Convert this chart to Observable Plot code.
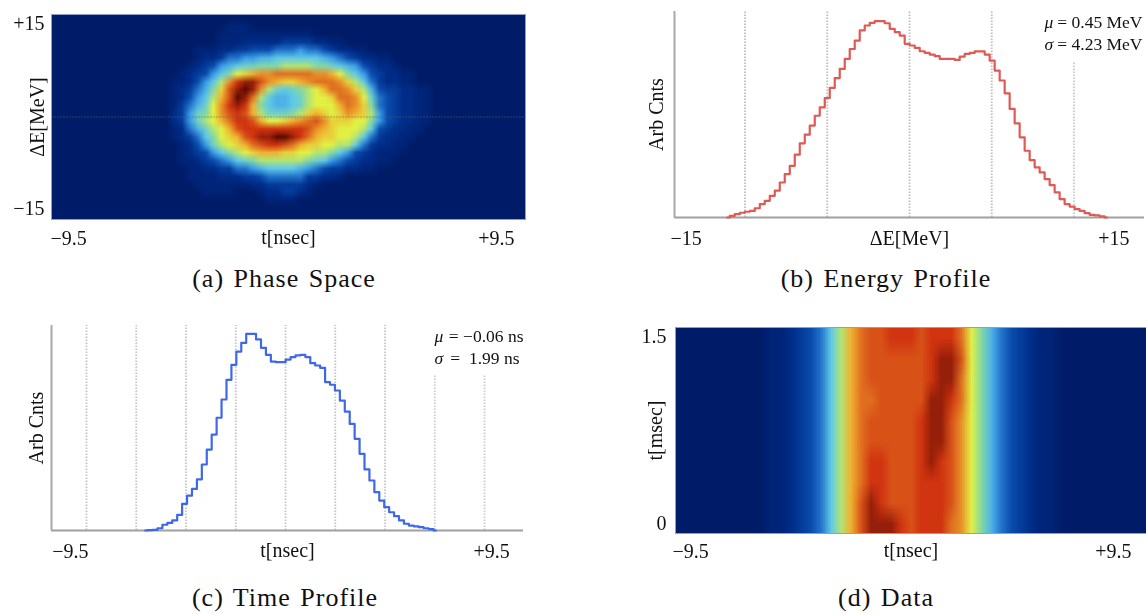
<!DOCTYPE html>
<html>
<head>
<meta charset="utf-8">
<script src="https://cdn.jsdelivr.net/npm/d3@7"></script>
<script src="https://cdn.jsdelivr.net/npm/@observablehq/plot@0.6"></script>
<style>
  html, body { margin: 0; padding: 0; background: #fff; }
  #page { position: relative; width: 1146px; height: 615px; overflow: hidden; font-family: "Liberation Serif", serif; color: #111; }
  .panel { position: absolute; filter: blur(0.35px); }
  .panel svg { overflow: visible; display: block; }
  .cap { position: absolute; font-size: 26px; letter-spacing: 1px; word-spacing: 2px; line-height: 28px; text-align: center; white-space: nowrap; transform: translateX(-50%); color: #111; }
</style>
</head>
<body>
<div id="page"></div>
<script>
// Heat scale stops (jet-like), shared by both images
const heatStops = [0, 2, 4, 6, 8, 10, 12, 14, 16, 18, 20];
const heatColors = ["#001c68", "#002c88", "#0a4cae", "#3a9be8", "#60c8e8", "#82d8a4", "#e2f044", "#f0b030", "#e07020", "#d03410", "#5c0a02"];

// (a) Phase space: central 35 columns of a 60 x 26 image, top row first; the rest is background
const phaseLeftPad = 14, phaseRightPad = 11;
const phaseSpaceCore = [
  [0,0,0,0,0,0,0,0,0,0,0,0,0,0,0,0,0,0,0,0,0,0,0,0,0,0,0,0,0,0,0,0,0,0,0],
  [0,0,0,0,0,0,0,0,1,1,1,0,0,0,0,0,0,0,0,0,0,0,0,0,0,0,0,0,0,0,0,0,0,0,0],
  [0,0,0,0,0,0,0,1,1,1,1,1,1,1,1,1,1,1,1,0,0,0,0,0,0,0,0,0,0,0,0,0,0,0,0],
  [0,0,0,0,0,0,0,1,1,1,2,2,2,2,2,3,3,3,3,2,2,1,1,0,0,0,0,0,0,0,0,0,0,0,0],
  [0,0,0,0,1,1,1,2,2,3,3,4,4,4,5,5,5,6,5,5,4,3,2,2,1,1,0,0,0,0,0,0,0,0,0],
  [0,0,0,0,1,2,2,3,5,5,6,6,7,7,8,8,8,8,8,8,7,6,5,4,3,2,2,1,1,0,0,0,0,0,0],
  [0,0,0,1,2,3,4,6,7,8,9,9,10,10,10,11,11,11,11,10,10,9,8,7,6,4,3,2,2,1,0,0,0,0,0],
  [0,0,1,2,3,4,6,8,10,12,13,14,15,15,16,16,16,16,16,15,15,14,12,10,8,6,4,3,2,2,1,1,0,0,0],
  [0,1,1,2,4,6,8,11,15,18,19,19,17,15,14,13,13,14,15,16,16,16,15,13,11,8,5,3,2,2,1,1,0,0,0],
  [0,1,2,3,5,7,10,13,17,19,20,19,15,11,9,8,9,10,11,12,14,16,16,15,13,11,7,4,3,3,2,2,1,1,0],
  [0,1,2,4,6,8,11,14,17,20,19,16,11,8,7,7,8,9,11,12,12,13,16,16,15,12,9,5,4,3,2,2,1,1,0],
  [0,1,3,5,7,9,12,15,18,19,18,14,10,8,7,7,8,9,11,12,12,12,14,16,15,13,10,5,4,3,2,2,1,1,0],
  [0,2,3,6,9,10,12,15,17,18,17,14,11,9,9,9,10,11,13,14,13,12,13,15,14,13,11,6,4,3,2,2,1,1,0],
  [0,2,3,6,9,11,12,14,16,18,18,17,14,12,12,13,14,15,16,17,15,13,13,13,12,12,10,6,4,3,2,2,1,1,0],
  [0,1,2,5,7,9,11,12,14,17,18,18,18,18,18,18,18,18,17,15,14,13,12,12,12,11,8,4,3,2,2,1,1,0,0],
  [0,1,2,3,5,8,10,12,13,14,17,18,19,19,20,20,19,18,16,14,13,13,12,12,11,8,5,3,2,2,1,1,0,0,0],
  [0,0,1,2,4,6,9,11,12,13,14,16,17,18,18,17,16,14,13,13,12,12,11,11,8,5,3,2,2,1,1,0,0,0,0],
  [0,0,1,2,3,4,6,8,10,11,12,13,14,14,14,13,13,12,12,11,11,10,8,6,4,3,2,1,1,1,0,0,0,0,0],
  [0,0,1,1,2,3,4,5,6,8,9,10,11,11,11,11,11,11,10,9,8,6,5,4,3,2,2,1,1,0,0,0,0,0,0],
  [0,0,0,1,1,2,2,3,3,5,5,6,7,8,8,8,8,7,6,5,4,3,3,2,2,1,1,0,0,0,0,0,0,0,0],
  [0,0,0,1,1,1,1,2,2,2,3,3,4,5,5,5,5,5,3,3,2,2,1,0,0,0,0,0,0,0,0,0,0,0,0],
  [0,0,0,0,1,1,1,1,1,1,1,2,2,3,3,3,3,3,2,1,0,0,0,0,0,0,0,0,0,0,0,0,0,0,0],
  [0,0,0,0,0,1,1,1,1,0,0,0,1,2,2,3,3,2,1,0,0,0,0,0,0,0,0,0,0,0,0,0,0,0,0],
  [0,0,0,0,0,0,0,0,0,0,0,0,0,1,1,1,1,0,0,0,0,0,0,0,0,0,0,0,0,0,0,0,0,0,0],
  [0,0,0,0,0,0,0,0,0,0,0,0,0,0,0,0,0,0,0,0,0,0,0,0,0,0,0,0,0,0,0,0,0,0,0],
  [0,0,0,0,0,0,0,0,0,0,0,0,0,0,0,0,0,0,0,0,0,0,0,0,0,0,0,0,0,0,0,0,0,0,0]
];
const phaseSpaceFlat = phaseSpaceCore.flatMap(r => [...Array(phaseLeftPad).fill(0), ...r, ...Array(phaseRightPad).fill(0)]);

// (d) Data: 47 columns x 10 rows, top row first
const dataGrid = [
  [0,0,0,0,0,0,0,0,0,1,1,2,3,4,5,8,11,14,16,17,17,18,18,18,17,18,18,18,16,12,10,7,5,4,3,2,1,1,0,0,0,0,0,0,0,0,0],
  [0,0,0,0,0,0,0,0,0,1,1,2,3,4,5,8,11,14,16,17,17,17,17,17,17,18,19,19,17,12,10,7,5,4,3,2,1,1,0,0,0,0,0,0,0,0,0],
  [0,0,0,0,0,0,0,0,0,1,1,2,3,4,5,8,11,14,16,17,17,17,17,17,17,18,19,19,16,12,10,7,5,4,3,2,1,1,0,0,0,0,0,0,0,0,0],
  [0,0,0,0,0,0,0,0,0,1,1,2,3,4,5,8,11,14,16,16,17,17,17,17,17,19,19,18,16,12,10,7,5,4,3,2,1,1,0,0,0,0,0,0,0,0,0],
  [0,0,0,0,0,0,0,0,0,1,1,2,3,4,5,8,11,14,16,17,17,17,17,17,18,19,19,17,15,12,10,7,5,4,3,2,1,1,0,0,0,0,0,0,0,0,0],
  [0,0,0,0,0,0,0,0,0,1,1,2,3,4,5,8,11,14,16,17,17,17,17,17,18,19,19,17,15,12,10,7,5,4,3,2,1,1,0,0,0,0,0,0,0,0,0],
  [0,0,0,0,0,0,0,0,0,1,1,2,3,4,5,8,11,14,16,18,18,17,17,17,18,19,18,17,15,12,10,7,5,4,3,2,1,1,0,0,0,0,0,0,0,0,0],
  [0,0,0,0,0,0,0,0,0,1,1,2,3,4,5,8,11,14,16,18,18,17,17,17,18,18,18,17,15,12,10,7,5,4,3,2,1,1,0,0,0,0,0,0,0,0,0],
  [0,0,0,0,0,0,0,0,0,1,1,2,3,4,5,8,11,14,17,19,18,17,17,17,18,18,18,17,15,12,10,7,5,4,3,2,1,1,0,0,0,0,0,0,0,0,0],
  [0,0,0,0,0,0,0,0,0,1,1,2,3,4,5,8,11,14,17,19,19,19,18,17,18,18,18,16,15,12,10,7,5,4,3,2,1,1,0,0,0,0,0,0,0,0,0]
];

// (b) Energy profile
const energyCounts = [0,0.8,1.6,2.3,2.8,3.2,4.5,6.5,8.1,10.5,13,17,21.1,25.1,30.5,36,40.2,44.6,49.4,53.5,58,62.9,67.7,72.1,77,81.8,85.9,90.8,93.2,94.5,95.3,95.3,94.3,91.6,90,88.3,84.3,83.5,82.3,80.7,79.9,79.1,78.3,77,77,77,76.5,78.1,79.4,79.9,80.6,80.6,79.1,76.2,71.3,66.5,60.3,52.7,45.7,38.9,32.4,27.9,24.3,21.9,18.6,15.7,12.2,8.9,6.5,5.3,4.1,3.2,2.1,1.3,1,0.5,0];
const energyStart = -11.63, energyStep = 0.319;
const energyGrid = [-10.5, -5.25, 0, 5.25];
const energyGridShort = [10.5];

// (c) Time profile
const timeCounts = [0,0.2,0.3,1.1,2.8,3.7,4.9,7.6,13,17,20.3,24.9,32.2,39.5,46.8,55,63.9,73.5,80.8,87.3,91.5,95.9,95.9,93.2,89.1,85.7,82.4,82.1,82.1,83.4,84.6,85.4,85.7,84.6,81.6,80.5,79.3,72.4,71.1,68.3,63.4,58,52,44.7,37.4,29.8,24.4,18.7,14.6,11.4,8.9,7,4.9,3.3,2.4,2,1.6,1.1,0.7,0];
const timeStart = -6.7, timeStep = 0.2353;
const timeGrid = [-9.5, -7.125, -4.75, -2.375, 0, 2.375, 4.75];
const timeGridShort = [7.125, 9.5];

const fs = 20;
const colorScale = {type: "linear", domain: heatStops, range: heatColors, clamp: true};

function tick(axis, value, text, opts) {
  return axis([value], {tickSize: 0, label: null, tickFormat: () => text, fontSize: fs, ...opts});
}
function xTitle(text, offset) {
  return Plot.axisX([], {label: text, labelAnchor: "center", labelArrow: "none", labelOffset: offset, fontSize: fs, tickSize: 0});
}
function yTitle(text, offset) {
  return Plot.axisY([], {label: text, labelAnchor: "center", labelArrow: "none", labelOffset: offset, fontSize: fs, tickSize: 0});
}
function stats(sym, rest, dxSym, dxRest, dy) {
  return [
    Plot.text([sym], {text: d => d, frameAnchor: "top-right", textAnchor: "start", dx: dxSym, dy, fontSize: 17.5, fontStyle: "italic", lineAnchor: "middle"}),
    Plot.text([rest], {text: d => d, frameAnchor: "top-right", textAnchor: "end", dx: dxRest, dy, fontSize: 17.5, lineAnchor: "middle"})
  ];
}
function mount(left, top, svg) {
  const d = document.createElement("div");
  d.className = "panel";
  d.style.left = left + "px";
  d.style.top = top + "px";
  d.appendChild(svg);
  document.getElementById("page").appendChild(d);
}
function caption(text, cx, top) {
  const d = document.createElement("div");
  d.className = "cap";
  d.textContent = text;
  d.style.left = cx + "px";
  d.style.top = top + "px";
  document.getElementById("page").appendChild(d);
}
const base = {style: {fontFamily: "'Liberation Serif', serif", color: "#111", background: "transparent", overflow: "visible"}};
const gridDash = "1.5,1.5";

// (a)
mount(0, 0, Plot.plot({
  ...base, width: 530, height: 260, marginLeft: 51, marginRight: 5, marginTop: 14, marginBottom: 41,
  x: {domain: [-9.5, 9.5], axis: null}, y: {domain: [-15, 15], axis: null}, color: colorScale,
  marks: [
    Plot.raster(phaseSpaceFlat, {width: 60, height: 26, x1: -9.5, x2: 9.5, y1: 15, y2: -15, fill: d => d}),
    Plot.ruleY([0], {stroke: "#5a6a50", strokeOpacity: 0.5, strokeWidth: 1, strokeDasharray: "2,1"}),
    Plot.frame({stroke: "#8f9fc8", strokeWidth: 1}),
    tick(Plot.axisX, -9.5, "−9.5", {textAnchor: "start", dx: -1, tickPadding: 11}),
    tick(Plot.axisX, 9.5, "+9.5", {textAnchor: "end", dx: -11, tickPadding: 11}),
    xTitle("t[nsec]", 24),
    tick(Plot.axisY, 15, "+15", {dy: 9, tickPadding: 7}),
    tick(Plot.axisY, -15, "−15", {dy: -11, tickPadding: 7}),
    yTitle("ΔE[MeV]", 22)
  ]
}));

// (b)
const energyRows = energyCounts.map((c, i) => ({e: energyStart + i * energyStep, c}));
mount(620, 0, Plot.plot({
  ...base, width: 526, height: 260, marginLeft: 54, marginRight: 2, marginTop: 11, marginBottom: 43,
  x: {domain: [-15, 15], axis: null}, y: {domain: [0, 100], axis: null},
  marks: [
    Plot.ruleX(energyGrid, {y1: 0, y2: 100, stroke: "#bdbdbd", strokeWidth: 1.8, strokeDasharray: gridDash}),
    Plot.ruleX(energyGridShort, {y1: 0, y2: 75, stroke: "#c8c8c8", strokeWidth: 1.8, strokeDasharray: gridDash}),
    Plot.ruleY([0], {stroke: "#a0a0a0", strokeWidth: 2}),
    Plot.ruleX([-15], {y1: 0, y2: 100, stroke: "#a8a8a8", strokeWidth: 2}),
    Plot.lineY(energyRows, {x: "e", y: "c", curve: "step", stroke: "#de5a54", strokeWidth: 2.2}),
    tick(Plot.axisX, -15, "−15", {textAnchor: "start", dx: -4, tickPadding: 13}),
    tick(Plot.axisX, 15, "+15", {textAnchor: "end", dx: -15, tickPadding: 13}),
    xTitle("ΔE[MeV]", 27),
    yTitle("Arb Cnts", 26),
    ...stats("μ", " = 0.45 MeV", -100, -2, 11),
    ...stats("σ", " = 4.23 MeV", -100, -2, 33)
  ]
}));

// (c)
const timeRows = timeCounts.map((c, i) => ({t: timeStart + i * timeStep, c}));
mount(0, 315, Plot.plot({
  ...base, width: 530, height: 260, marginLeft: 51, marginRight: 7, marginTop: 10, marginBottom: 45,
  x: {domain: [-11.17, 11.36], axis: null}, y: {domain: [0, 100], axis: null},
  marks: [
    Plot.ruleX(timeGrid, {y1: 0, y2: 100, stroke: "#c4c4c4", strokeWidth: 1.8, strokeDasharray: gridDash}),
    Plot.ruleX(timeGridShort, {y1: 0, y2: 76, stroke: "#cccccc", strokeWidth: 1.8, strokeDasharray: gridDash}),
    Plot.ruleY([0], {stroke: "#a0a0a0", strokeWidth: 2}),
    Plot.ruleX([-11.17], {y1: 0, y2: 100, stroke: "#a8a8a8", strokeWidth: 2}),
    Plot.lineY(timeRows, {x: "t", y: "c", curve: "step", stroke: "#3f68e6", strokeWidth: 2.2}),
    tick(Plot.axisX, -9.5, "−9.5", {textAnchor: "middle", dx: -16, tickPadding: 13}),
    tick(Plot.axisX, 9.5, "+9.5", {textAnchor: "middle", dx: 7, tickPadding: 13}),
    xTitle("t[nsec]", 26),
    yTitle("Arb Cnts", 23),
    ...stats("μ", " = −0.06 ns", -89, 0, 11),
    ...stats("σ", " =  1.99 ns", -89, -4, 33)
  ]
}));

// (d)
mount(620, 315, Plot.plot({
  ...base, width: 526, height: 260, marginLeft: 55, marginRight: 0, marginTop: 12, marginBottom: 42,
  x: {domain: [-9.5, 9.5], axis: null}, y: {domain: [0, 1.5], axis: null}, color: colorScale,
  marks: [
    Plot.raster(dataGrid.flat(), {width: 47, height: 10, x1: -9.5, x2: 9.5, y1: 1.5, y2: 0, fill: d => d}),
    Plot.frame({stroke: "#8f9fc8", strokeWidth: 1}),
    tick(Plot.axisX, -9.5, "−9.5", {textAnchor: "start", dx: -3, tickPadding: 10}),
    tick(Plot.axisX, 9.5, "+9.5", {textAnchor: "end", dx: -15, tickPadding: 10}),
    xTitle("t[nsec]", 23),
    tick(Plot.axisY, 1.5, "1.5", {dy: 9, tickPadding: 9}),
    tick(Plot.axisY, 0, "0", {dy: -10, tickPadding: 9}),
    yTitle("t[msec]", 28)
  ]
}));

caption("(a) Phase Space", 284, 265);
caption("(b) Energy Profile", 886, 265);
caption("(c) Time Profile", 285, 584);
caption("(d) Data", 886, 584);
</script>
</body>
</html>
